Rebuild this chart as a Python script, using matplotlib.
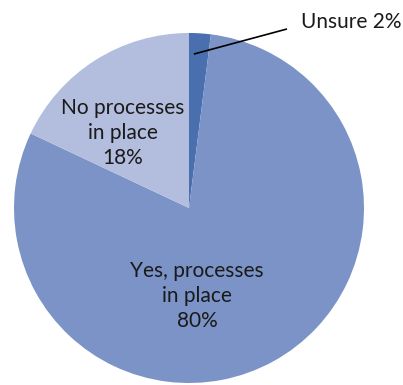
import numpy as np
import matplotlib
matplotlib.use("Agg")
import matplotlib.pyplot as plt

labels = ["Unsure", "Yes, processes\nin place", "No processes\nin place"]
values = [2, 80, 18]
colors = ["#4a6fae", "#7b93c6", "#b3bddd"]

plt.rcParams['font.family'] = ['Lato', 'DejaVu Sans']

W, H = 403, 385
fig = plt.figure(figsize=(W / 100, H / 100), dpi=100)
cx, cy, r = 189, 208, 175
ax = fig.add_axes([(cx - r) / W, (H - cy - r) / H, 2 * r / W, 2 * r / H])

wedges, _ = ax.pie(values, colors=colors, startangle=90, counterclock=False,
                   radius=1.0, wedgeprops=dict(linewidth=0))
ax.set_xlim(-1, 1)
ax.set_ylim(-1, 1)
ax.set_aspect('equal')
ax.axis('off')

txt = dict(fontsize=15, color="#1a1a1a", ha="center", va="center", linespacing=1.32)

# Inside labels for the two large slices
ax.text(-0.377, 0.429, f"{labels[2]}\n{values[2]}%", **txt)
ax.text(0.046, -0.503, f"{labels[1]}\n{values[1]}%", **txt)

# Leader line and outside label for the small slice
w = wedges[0]
ang = np.deg2rad(w.theta2 - 0.25 * (w.theta2 - w.theta1))
ax.plot([0.88 * np.cos(ang), 0.56], [0.88 * np.sin(ang), 1.023],
        color='black', lw=1.2, clip_on=False, solid_capstyle='butt')
ax.text(0.64, 1.063, f"{labels[0]} {values[0]}%", fontsize=15, color="#1a1a1a",
        ha="left", va="center", clip_on=False)

fig.savefig("out.png", dpi=100)
